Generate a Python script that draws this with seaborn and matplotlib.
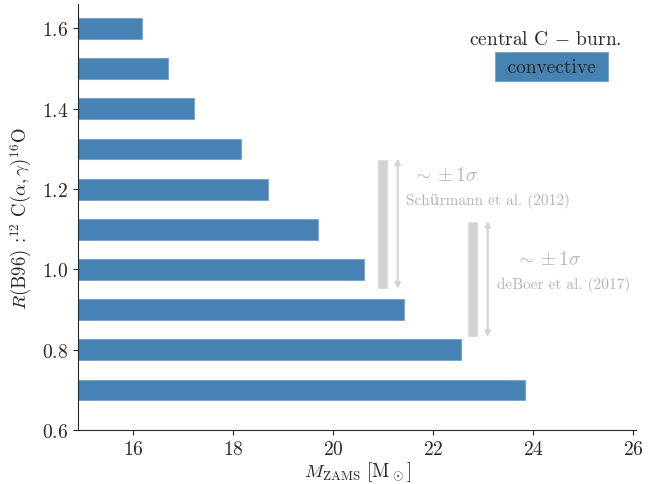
import numpy as np
import pandas as pd
import seaborn as sns
from matplotlib import pyplot as plt

# central C-burning convective: rate factor vs. ZAMS mass limit
rate_factor = [0.7, 0.8, 0.9, 1.0, 1.1, 1.2, 1.3, 1.4, 1.5, 1.6]
m_zams = [23.84, 22.55, 21.42, 20.62, 19.70, 18.70, 18.16, 17.22, 16.70, 16.17]

# +-1 sigma ranges of the rate from the literature
sigma_refs = ['Schürmann et al. (2012)', 'deBoer et al. (2017)']
sigma_x = [20.99, 22.79]
sigma_lo = [0.952, 0.832]
sigma_hi = [1.276, 1.121]

sns.set_style('ticks')
plt.rcParams['font.family'] = ['cmr10', 'DejaVu Serif']
plt.rcParams['mathtext.fontset'] = 'cm'
plt.rcParams['axes.formatter.use_mathtext'] = True

df = pd.DataFrame({'R': rate_factor, 'M': m_zams})

fig = plt.figure(figsize=(6.67, 4.85), dpi=100)
ax = fig.add_axes([0.117, 0.111, 0.837, 0.878])

sns.barplot(data=df, x='M', y='R', orient='y', native_scale=True, width=0.52,
            color='steelblue', saturation=1, edgecolor='#7aa6cf', linewidth=0.8, ax=ax)

gray = '#d3d3d3'
txt_gray = '#b5b5b5'
ax.bar(sigma_x, np.array(sigma_hi) - np.array(sigma_lo), bottom=sigma_lo,
       width=0.22, color=gray)
for i in range(len(sigma_x)):
    xa = sigma_x[i] + 0.3
    ax.annotate('', xy=(xa, sigma_lo[i]), xytext=(xa, sigma_hi[i]),
                arrowprops=dict(arrowstyle='<|-|>', color=gray, lw=1.5,
                                mutation_scale=8, shrinkA=0, shrinkB=0))

ax.text(22.25, 1.236, r'$\sim\pm1\sigma$', color=txt_gray, fontsize=14, ha='center', va='center')
ax.text(23.1, 1.173, sigma_refs[0], color=txt_gray, fontsize=11, ha='center', va='center')
ax.text(24.3, 1.026, r'$\sim\pm1\sigma$', color=txt_gray, fontsize=14, ha='center', va='center')
ax.text(24.6, 0.964, sigma_refs[1], color=txt_gray, fontsize=11, ha='center', va='center')

# legend-like box
ax.text(24.25, 1.573, r'central C $-$ burn.', fontsize=14, ha='center', va='center')
ax.text(24.36, 1.505, ' convective ', fontsize=14, ha='center', va='center',
        bbox=dict(boxstyle='square,pad=0.3', fc='steelblue', ec='#7aa6cf', lw=0.8))

ax.set_xlim(14.9, 26.06)
ax.set_ylim(0.6, 1.66)
ax.set_xticks([16, 18, 20, 22, 24, 26])
ax.set_yticks([0.6, 0.8, 1.0, 1.2, 1.4, 1.6])
ax.tick_params(labelsize=14)
ax.set_xlabel(r'$M_{\rm ZAMS}$ [M$_\odot$]', fontsize=13.5, labelpad=1)
ax.set_ylabel(r'$R$(B96) :$^{12}$ C$(\alpha,\gamma)^{16}$O', fontsize=13.5, labelpad=6)
sns.despine(ax=ax)

fig.savefig('out.png', dpi=100)
